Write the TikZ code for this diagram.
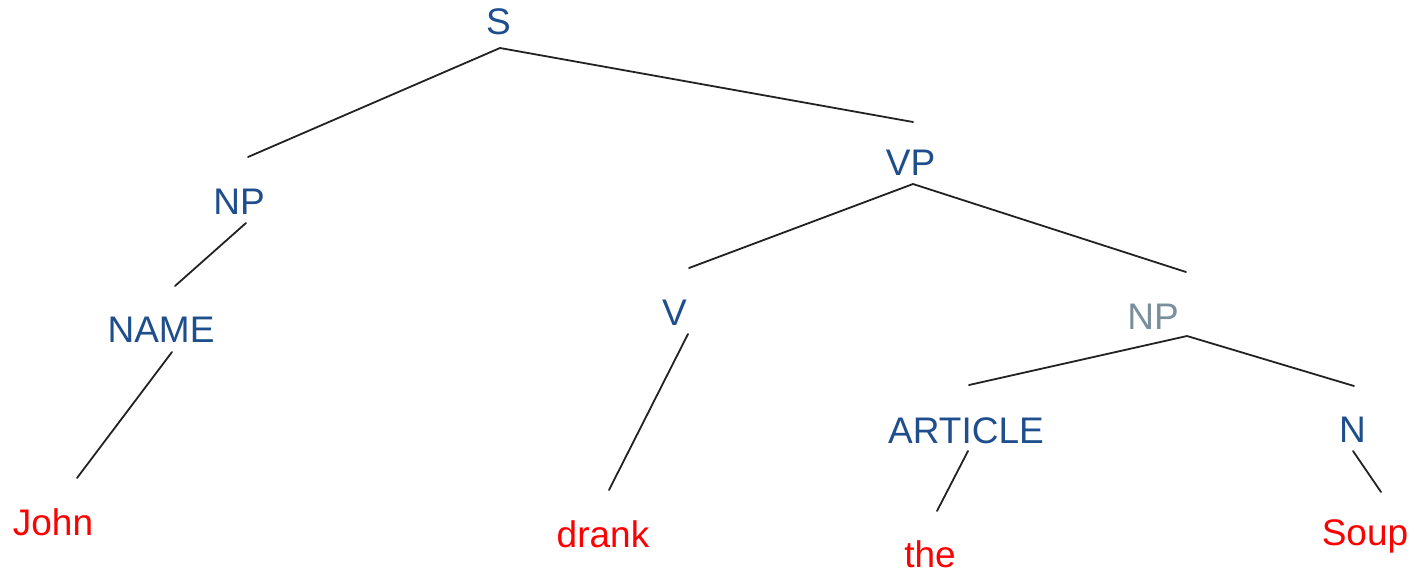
\documentclass[tikz,border=0pt]{standalone}
\usepackage{fontspec}
\setmainfont{Liberation Sans}
\definecolor{catblue}{RGB}{31,78,140}
\definecolor{catgrey}{RGB}{122,143,158}
\definecolor{wordred}{RGB}{255,0,0}
\definecolor{branch}{RGB}{34,34,34}
\begin{document}
\begin{tikzpicture}[x=1pt,y=-1pt,
  lbl/.style={anchor=base,inner sep=0pt,font=\fontsize{37}{44}\selectfont},
  cat/.style={lbl,text=catblue},
  catdim/.style={lbl,text=catgrey},
  word/.style={lbl,text=wordred},
  edge/.style={draw=branch,line width=1.8pt,line cap=round,line join=miter}]
\useasboundingbox (0,0) rectangle (1418,574);

% category labels
\node[cat]    (S)    at (498.5,34)  {S};
\node[cat]    (NPa)  at (239,214)   {NP};
\node[cat]    (NAME) at (161,342)   {NAME};
\node[cat]    (VP)   at (910.5,175) {VP};
\node[cat]    (V)    at (674.5,325) {V};
\node[catdim] (NPb)  at (1153,329)  {NP};
\node[cat]    (ART)  at (966,443)   {ARTICLE};
\node[cat]    (N)    at (1352.5,442){N};

% words
\node[word] (John)  at (53,535)   {John};
\node[word] (drank) at (603,547)  {drank};
\node[word] (the)   at (930,567)  {the};
\node[word] (Soup)  at (1365,545) {Soup};

% branch end points
\coordinate (S-b)    at (500,48);
\coordinate (NPa-t)  at (248,157);
\coordinate (VP-t)   at (913,122);
\coordinate (NPa-b)  at (246,223);
\coordinate (NAME-t) at (175,286);
\coordinate (NAME-b) at (172,352);
\coordinate (John-t) at (77,478);
\coordinate (VP-b)   at (913,184);
\coordinate (V-t)    at (689,268);
\coordinate (NPb-t)  at (1186,272);
\coordinate (V-b)    at (688,334);
\coordinate (drank-t) at (609,490);
\coordinate (NPb-b)  at (1187,336);
\coordinate (ART-t)  at (969,385);
\coordinate (N-t)    at (1354,386);
\coordinate (ART-b)  at (968,451);
\coordinate (the-t)  at (937,511);
\coordinate (N-b)    at (1353,451);
\coordinate (Soup-t) at (1381,492);

% branches
\draw[edge] (NPa-t) -- (S-b) -- (VP-t);
\draw[edge] (NPa-b) -- (NAME-t);
\draw[edge] (NAME-b) -- (John-t);
\draw[edge] (V-t) -- (VP-b) -- (NPb-t);
\draw[edge] (V-b) -- (drank-t);
\draw[edge] (ART-t) -- (NPb-b) -- (N-t);
\draw[edge] (ART-b) -- (the-t);
\draw[edge] (N-b) -- (Soup-t);
\end{tikzpicture}
\end{document}
